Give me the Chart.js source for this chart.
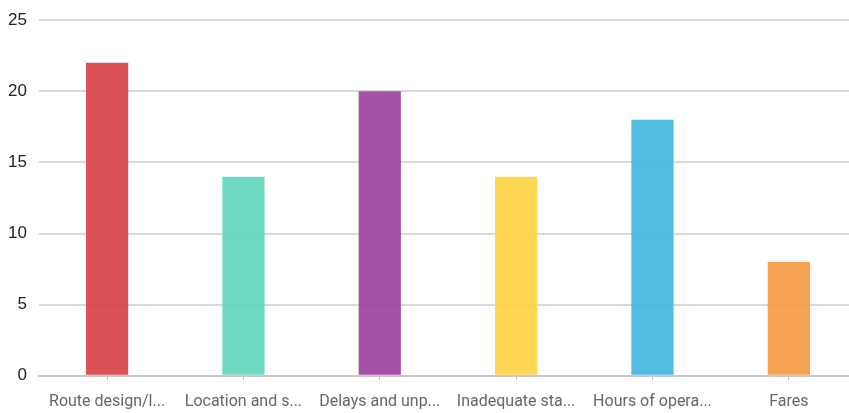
<!DOCTYPE html>
<html>
<head>
<meta charset="utf-8">
<script src="https://cdn.jsdelivr.net/npm/chart.js@4"></script>
<style>
  html, body { margin: 0; padding: 0; background: #fff; overflow: hidden; }
  #wrap { width: 857px; height: 422px; margin-top: -2px; }
</style>
</head>
<body>
<div id="wrap"><canvas id="issuesChart"></canvas></div>
<script>
// Chart data
const categories = [
  "Route design/l...",
  "Location and s...",
  "Delays and unp...",
  "Inadequate sta...",
  "Hours of opera...",
  "Fares"
];
const counts = [22, 14, 20, 14, 18, 8];
const barColors = ["#d63e44", "#5fd6ba", "#9c3e9e", "#ffd23e", "#3fb6e0", "#f4983f"];
const yTicks = [0, 5, 10, 15, 20, 25];

const ctx = document.getElementById("issuesChart").getContext("2d");

new Chart(ctx, {
  type: "bar",
  data: {
    labels: categories,
    datasets: [
      {
        data: counts,
        backgroundColor: barColors.map((c) => c + "e6"),
        borderWidth: 0,
        barPercentage: 0.31,
        categoryPercentage: 1,
      },
    ],
  },
  options: {
    responsive: true,
    maintainAspectRatio: false,
    animation: false,
    layout: { padding: { top: 1, right: 0, left: -4, bottom: -5 } },
    plugins: {
      legend: { display: false },
      tooltip: { enabled: false },
    },
    scales: {
      y: {
        min: 0,
        max: 25,
        afterBuildTicks: (axis) => {
          axis.ticks = yTicks.map((v) => ({ value: v }));
        },
        ticks: {
          color: "#222",
          padding: 12,
          font: { family: "Liberation Sans, Arial", size: 17 },
        },
        grid: {
          color: "#d9d9d9",
          lineWidth: 2,
          drawTicks: false,
        },
        border: { display: false },
      },
      x: {
        ticks: {
          color: "#666",
          padding: 13,
          maxRotation: 0,
          autoSkip: false,
          font: { family: "Roboto", size: 16 },
        },
        grid: {
          display: true,
          drawOnChartArea: false,
          offset: false,
          tickLength: 4,
          color: "#bbb",
        },
        border: { display: true, color: "#c8c8c8", width: 2 },
      },
    },
  },
});
</script>
</body>
</html>
